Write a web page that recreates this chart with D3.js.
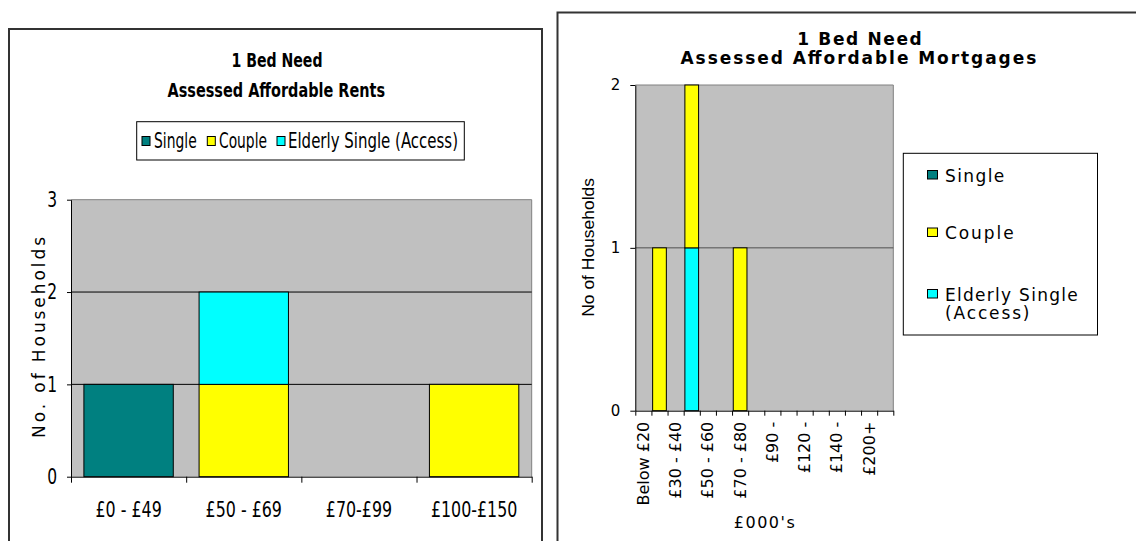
<!DOCTYPE html>
<html>
<head>
<meta charset="utf-8">
<script src="https://cdn.jsdelivr.net/npm/d3@7/dist/d3.min.js"></script>
<style>
  html, body { margin: 0; padding: 0; background: #fff; }
  svg { display: block; }
  .narrow { font-family: "Liberation Sans Narrow", "Arial Narrow", "DejaVu Sans Condensed", sans-serif; }
  .verd { font-family: "DejaVu Sans", Verdana, sans-serif; }
  .arial { font-family: "Liberation Sans", Arial, sans-serif; }
</style>
</head>
<body>
<svg id="chart" width="1136" height="541"></svg>
<script>
// ---------- DATA ----------
const seriesNames = ["Single", "Couple", "Elderly Single (Access)"];
const seriesColors = ["#008080", "#FFFF00", "#00FFFF"];

// Chart 1: Assessed Affordable Rents
const rentCategories = ["£0 - £49", "£50 - £69", "£70-£99", "£100-£150"];
const rentSingle  = [1, 0, 0, 0];
const rentCouple  = [0, 1, 0, 1];
const rentElderly = [0, 1, 0, 0];
const rentYTicks = [0, 1, 2, 3];

// Chart 2: Assessed Affordable Mortgages (£000's)
const mortgageCategories = ["Below £20", "£20 - £30", "£30 - £40", "£40 - £50", "£50 - £60", "£60 - £70",
  "£70 - £80", "£80 - £90", "£90 - £100", "£100 - £120", "£120 - £130", "£130 - £140",
  "£140 - £150", "£150 - £200", "£200+", "Other"];
const mortgageTickLabels = ["Below £20", "", "£30 - £40", "", "£50 - £60", "", "£70 - £80", "",
  "£90 -", "", "£120 -", "", "£140 -", "", "£200+", ""];
const mortgageSingle  = [0, 0, 0, 0, 0, 0, 0, 0, 0, 0, 0, 0, 0, 0, 0, 0];
const mortgageCouple  = [0, 1, 0, 1, 0, 0, 1, 0, 0, 0, 0, 0, 0, 0, 0, 0];
const mortgageElderly = [0, 0, 0, 1, 0, 0, 0, 0, 0, 0, 0, 0, 0, 0, 0, 0];
const mortgageYTicks = [0, 1, 2];

// ---------- DRAW ----------
const svg = d3.select("#chart");
const colorOf = d3.scaleOrdinal().domain(seriesNames).range(seriesColors);

// squeeze text horizontally to imitate a narrow typeface
function narrowText(sel, factor) {
  sel.each(function () {
    const w = this.getComputedTextLength();
    if (w > 0) d3.select(this).attr("textLength", w * factor).attr("lengthAdjust", "spacingAndGlyphs");
  });
}

// Panel frames
svg.append("path").attr("d", "M9,541 L9,29 L542,29 L542,541")
  .attr("fill", "none").attr("stroke", "#333").attr("stroke-width", 2);
svg.append("path").attr("d", "M557.5,541 L557.5,12.5 L1136,12.5")
  .attr("fill", "none").attr("stroke", "#333").attr("stroke-width", 2);

// ===== Chart 1 =====
(function () {
  const x0 = 71, x1 = 531.7, yb = 476.7, yt = 199.7;
  const rows = rentCategories.map((c, i) => ({
    cat: c, "Single": rentSingle[i], "Couple": rentCouple[i], "Elderly Single (Access)": rentElderly[i]
  }));
  const x = d3.scaleBand().domain(rentCategories).range([x0, x1]).paddingInner(0.224).paddingOuter(0.112);
  const y = d3.scaleLinear().domain([0, 3]).range([yb, yt]);
  const g = svg.append("g");

  g.append("rect").attr("x", x0).attr("y", y(3)).attr("width", x1 - x0).attr("height", yb - y(3)).attr("fill", "#C0C0C0");
  g.append("path").attr("d", `M${x0},${y(3)}H${x1}V${yb}`).attr("fill", "none").attr("stroke", "#808080").attr("stroke-width", 1);
  g.selectAll("line.grid").data([1, 2]).join("line").attr("class", "grid")
    .attr("x1", x0).attr("x2", x1).attr("y1", d => y(d)).attr("y2", d => y(d))
    .attr("stroke", "#000").attr("stroke-width", 1);

  const stack = d3.stack().keys(["Single", "Couple", "Elderly Single (Access)"])(rows);
  g.selectAll("g.series").data(stack).join("g").attr("class", "series")
    .attr("fill", d => colorOf(d.key))
    .selectAll("rect").data(d => d.filter(p => p[1] - p[0] > 0)).join("rect")
    .attr("x", d => x(d.data.cat)).attr("width", x.bandwidth())
    .attr("y", d => y(d[1])).attr("height", d => y(d[0]) - y(d[1]))
    .attr("stroke", "#000").attr("stroke-width", 1);

  // y axis
  const ya = g.append("g").attr("transform", `translate(${x0},0)`)
    .call(d3.axisLeft(y).tickValues(rentYTicks).tickSize(4).tickSizeOuter(0).tickPadding(10).tickFormat(d3.format("d")));
  ya.selectAll("path,line").attr("stroke", "#000");
  ya.selectAll("text").attr("class", "narrow").style("font-size", "21px").attr("fill", "#000")
    .call(narrowText, 0.82);

  // x boundary ticks
  const xb = d3.scaleLinear().domain([0, rentCategories.length]).range([x0, x1]);
  const xa = g.append("g").attr("transform", `translate(0,${yb})`)
    .call(d3.axisBottom(xb).tickValues(d3.range(rentCategories.length + 1)).tickSize(6).tickSizeOuter(0).tickFormat(""));
  xa.selectAll("path,line").attr("stroke", "#000");

  // x labels
  const xl = g.append("g").attr("transform", `translate(0,${yb})`)
    .call(d3.axisBottom(x).tickSize(0).tickPadding(25.7));
  xl.select(".domain").remove();
  xl.selectAll("text").attr("class", "narrow").style("font-size", "21px").attr("fill", "#000")
    .call(narrowText, 0.84);

  // y title
  g.append("text").attr("class", "verd")
    .attr("transform", "translate(44.5,337.5) rotate(-90)")
    .attr("text-anchor", "middle").style("font-size", "17px")
    .attr("textLength", 201).attr("lengthAdjust", "spacing")
    .text("No. of Households");

  // title
  g.append("text").attr("class", "narrow").attr("x", 277).attr("y", 66.5)
    .attr("text-anchor", "middle").style("font-size", "20px").style("font-weight", "bold")
    .attr("textLength", 91).attr("lengthAdjust", "spacingAndGlyphs").text("1 Bed Need");
  g.append("text").attr("class", "narrow").attr("x", 276.3).attr("y", 96.5)
    .attr("text-anchor", "middle").style("font-size", "20px").style("font-weight", "bold")
    .attr("textLength", 217.4).attr("lengthAdjust", "spacingAndGlyphs").text("Assessed Affordable Rents");

  // legend
  g.append("rect").attr("x", 136.7).attr("y", 121.7).attr("width", 327.6).attr("height", 38.3)
    .attr("fill", "#fff").attr("stroke", "#000").attr("stroke-width", 1);
  const legItems = [
    { name: seriesNames[0], mx: 142, tx: 154, tw: 42.7 },
    { name: seriesNames[1], mx: 207.3, tx: 219, tw: 48 },
    { name: seriesNames[2], mx: 277, tx: 288, tw: 170 }
  ];
  const lg = g.selectAll("g.leg").data(legItems).join("g").attr("class", "leg");
  lg.append("rect").attr("x", d => d.mx).attr("y", 136.5).attr("width", 8).attr("height", 9)
    .attr("fill", d => colorOf(d.name)).attr("stroke", "#000").attr("stroke-width", 1);
  lg.append("text").attr("class", "narrow").attr("x", d => d.tx).attr("y", 148.3)
    .style("font-size", "21px").attr("textLength", d => d.tw).attr("lengthAdjust", "spacingAndGlyphs")
    .text(d => d.name);
})();

// ===== Chart 2 =====
(function () {
  const x0 = 635.3, x1 = 893.3, yb = 410.7, yt = 85;
  const rows = mortgageCategories.map((c, i) => ({
    cat: c, "Single": mortgageSingle[i], "Couple": mortgageCouple[i], "Elderly Single (Access)": mortgageElderly[i]
  }));
  const x = d3.scaleBand().domain(mortgageCategories).range([x0, x1]).paddingInner(0.15).paddingOuter(0.075);
  const y = d3.scaleLinear().domain([0, 2]).range([yb, yt]);
  const g = svg.append("g");

  g.append("rect").attr("x", x0).attr("y", y(2)).attr("width", x1 - x0).attr("height", yb - y(2)).attr("fill", "#C0C0C0");
  g.append("path").attr("d", `M${x0},${y(2)}H${x1}V${yb}`).attr("fill", "none").attr("stroke", "#808080").attr("stroke-width", 1);
  g.selectAll("line.grid").data([1]).join("line").attr("class", "grid")
    .attr("x1", x0).attr("x2", x1).attr("y1", d => y(d)).attr("y2", d => y(d))
    .attr("stroke", "#505050").attr("stroke-width", 1);

  // stacking order in this chart: Elderly below Couple
  const stack = d3.stack().keys(["Single", "Elderly Single (Access)", "Couple"])(rows);
  g.selectAll("g.series").data(stack).join("g").attr("class", "series")
    .attr("fill", d => colorOf(d.key))
    .selectAll("rect").data(d => d.filter(p => p[1] - p[0] > 0)).join("rect")
    .attr("x", d => x(d.data.cat)).attr("width", x.bandwidth())
    .attr("y", d => y(d[1])).attr("height", d => y(d[0]) - y(d[1]))
    .attr("stroke", "#000").attr("stroke-width", 1);

  const ya = g.append("g").attr("transform", `translate(${x0},0)`)
    .call(d3.axisLeft(y).tickValues(mortgageYTicks).tickSize(5).tickSizeOuter(0).tickPadding(10).tickFormat(d3.format("d")));
  ya.selectAll("path,line").attr("stroke", "#000");
  ya.selectAll("text").attr("class", "verd").style("font-size", "15px").attr("fill", "#000");

  const xb = d3.scaleLinear().domain([0, mortgageCategories.length]).range([x0, x1]);
  const xa = g.append("g").attr("transform", `translate(0,${yb})`)
    .call(d3.axisBottom(xb).tickValues(d3.range(mortgageCategories.length + 1)).tickSize(5).tickSizeOuter(0).tickFormat(""));
  xa.selectAll("path,line").attr("stroke", "#000");

  const xl = g.append("g").attr("transform", `translate(0,${yb})`)
    .call(d3.axisBottom(x).tickSize(0).tickFormat((d, i) => mortgageTickLabels[i]));
  xl.select(".domain").remove();
  xl.selectAll("text").attr("class", "verd").style("font-size", "16px").attr("fill", "#000")
    .attr("transform", "rotate(-90)").attr("x", -11).attr("y", 0).attr("dy", "0.35em")
    .attr("text-anchor", "end");

  g.append("text").attr("class", "verd").attr("x", 764.3).attr("y", 527.5)
    .attr("text-anchor", "middle").style("font-size", "16px")
    .attr("textLength", 61).attr("lengthAdjust", "spacing").text("£000's");

  g.append("text").attr("class", "arial")
    .attr("transform", "translate(593.5,247.4) rotate(-90)")
    .attr("text-anchor", "middle").style("font-size", "16px")
    .attr("textLength", 138.7).attr("lengthAdjust", "spacingAndGlyphs")
    .text("No of Households");

  g.append("text").attr("class", "verd").attr("x", 859.5).attr("y", 45)
    .attr("text-anchor", "middle").style("font-size", "17px").style("font-weight", "bold")
    .attr("textLength", 124.5).attr("lengthAdjust", "spacing").text("1 Bed Need");
  g.append("text").attr("class", "verd").attr("x", 858.4).attr("y", 64)
    .attr("text-anchor", "middle").style("font-size", "17px").style("font-weight", "bold")
    .attr("textLength", 355.8).attr("lengthAdjust", "spacing").text("Assessed Affordable Mortgages");

  // legend
  g.append("rect").attr("x", 903.3).attr("y", 153.3).attr("width", 194.2).attr("height", 181.7)
    .attr("fill", "#fff").attr("stroke", "#000").attr("stroke-width", 1);
  const legItems = [
    { name: seriesNames[0], my: 170.5, lines: ["Single"], base: 181.7, tw: [59.3] },
    { name: seriesNames[1], my: 228, lines: ["Couple"], base: 239, tw: [68.6] },
    { name: seriesNames[2], my: 289.5, lines: ["Elderly Single", "(Access)"], base: 301, tw: [132.7, 84.5] }
  ];
  const lg = g.selectAll("g.leg").data(legItems).join("g").attr("class", "leg");
  lg.append("rect").attr("x", 927.5).attr("y", d => d.my).attr("width", 10).attr("height", 8.5)
    .attr("fill", d => colorOf(d.name)).attr("stroke", "#000").attr("stroke-width", 1);
  lg.each(function (d) {
    d3.select(this).selectAll("text").data(d.lines).join("text").attr("class", "verd")
      .attr("x", 945).attr("y", (t, i) => d.base + i * 18)
      .style("font-size", "17px").attr("textLength", (t, i) => d.tw[i]).attr("lengthAdjust", "spacing")
      .text(t => t);
  });
})();
</script>
</body>
</html>
